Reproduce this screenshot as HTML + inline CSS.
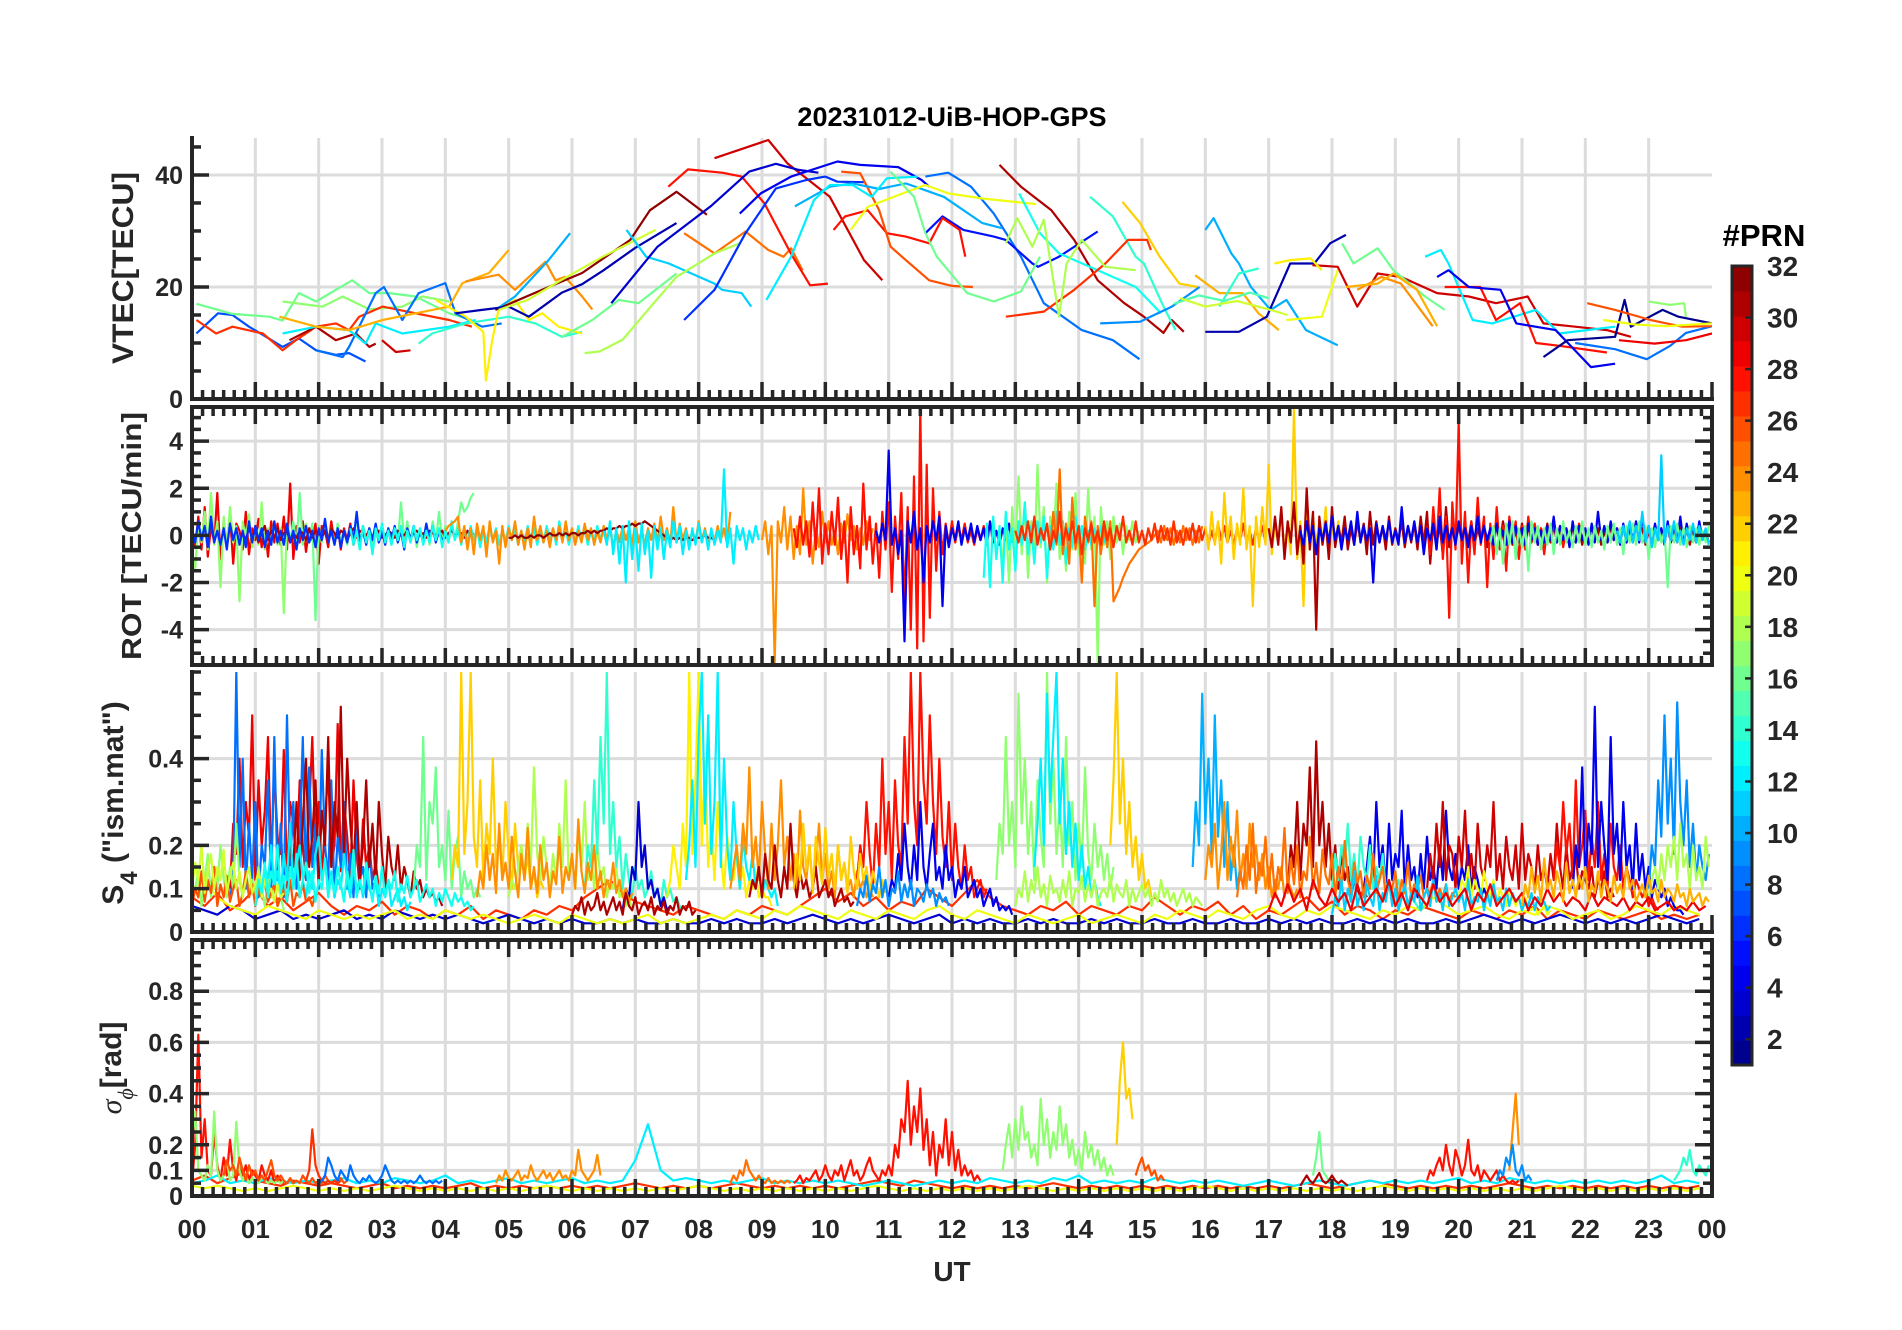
<!DOCTYPE html>
<html><head><meta charset="utf-8"><title>20231012-UiB-HOP-GPS</title>
<style>
html,body{margin:0;padding:0;background:#fff;}
svg{display:block;font-family:"Liberation Sans",Arial,sans-serif;}
</style></head>
<body>
<svg id="chart" width="1902" height="1330" viewBox="0 0 1902 1330" xmlns="http://www.w3.org/2000/svg">
<rect x="0" y="0" width="1902" height="1330" fill="#fff"/>
<text x="952" y="126" text-anchor="middle" font-size="27" font-weight="bold" fill="#000">20231012-UiB-HOP-GPS</text>
<g id="panels"></g>
<text x="952" y="1281" text-anchor="middle" font-size="28" font-weight="bold" fill="#262626">UT</text>
<text transform="translate(133,268) rotate(-90)" text-anchor="middle" font-size="30" font-weight="bold" fill="#262626" textLength="192" lengthAdjust="spacingAndGlyphs">VTEC[TECU]</text>
<text transform="translate(141,536) rotate(-90)" text-anchor="middle" font-size="28" font-weight="bold" fill="#262626" textLength="248" lengthAdjust="spacingAndGlyphs">ROT [TECU/min]</text>
<text transform="translate(123,803) rotate(-90)" text-anchor="middle" font-size="30" font-weight="bold" fill="#262626">S<tspan font-size="24" dy="14">4</tspan><tspan dy="-14"> ("ism.mat")</tspan></text>
<text transform="translate(121,1068) rotate(-90)" text-anchor="middle" font-size="30" font-weight="bold" fill="#262626"><tspan font-family="Liberation Serif,serif" font-style="italic" font-weight="normal">σ</tspan><tspan font-family="Liberation Serif,serif" font-style="italic" font-weight="normal" font-size="22" dy="12">ϕ</tspan><tspan dy="-12">[rad]</tspan></text>
<g id="colorbar"></g>
<text x="1764" y="246" text-anchor="middle" font-size="31" font-weight="bold" fill="#000">#PRN</text>
</svg>
<script>
// ---------- VTEC data ----------
const vtecPrn = [7,16,17,27,31,30,8,12,14,23,24,21,10,32,2,19,11,25,18,16,30,28,3,4,6,8,5,28,26,10,12,20,16,31,13,14,27,18,22,23,9,10,2,30,24,16,12,28,4,1,17,8,26,20,29,21,23,14,20,15,19];
const vtecTimes = [
[0.07,0.41,0.64,0.9,1.17,1.43,1.69,1.96,2.27,2.48,2.74],
[0.07,0.64,1.22,1.43,1.69,1.96,2.27,2.53,2.8,3.11,3.53,4.06,4.42],
[1.43,2.06,2.38,2.8,3.32,3.64,4.06],
[0.07,0.38,0.64,1.12,1.43,1.64,1.96,2.27,2.48,2.64,3.01,3.53,4.06,4.42],
[1.54,1.96,2.27,2.59,2.8,2.9],
[3.0,3.22,3.45],
[1.96,2.38,2.48,2.74,2.9,3.03,3.32,3.58,4.0,4.16,4.58,4.89],
[1.43,1.96,2.48,2.74,2.9,3.32,4.06,4.48],
[3.58,3.79,4.32,5.0,5.42,5.84,6.16],
[1.38,1.96,2.48,3.01,3.53,4.06,4.27,4.69,5.0],
[4.32,4.84,5.1,5.58,5.74,5.89,6.16,6.32],
[3.85,4.32,4.6,4.64,4.74,4.84,5.1,5.32,5.53,5.79,6.16],
[4.79,5.1,5.63,5.97],
[4.79,5.63,6.16,6.92,7.23,7.65,8.13],
[4.16,4.58,5.0,5.32,5.84,6.16,6.5,7.0,7.65],
[4.84,5.3,5.84,6.5,7.32],
[6.86,7.17,7.53,7.77,8.25,8.37,8.68,8.83],
[7.77,8.25,8.74,9.1,9.34,9.46,9.64],
[6.2,6.44,6.8,7.29,7.65,8.25,8.65],
[5.84,6.32,6.74,7.05,7.65],
[8.25,9.1,9.4,10.07,10.61,10.9],
[7.52,7.83,8.37,8.68,9.04,9.46,9.76,10.04],
[6.62,7.35,8.19,8.8,9.22,9.58,9.89],
[8.65,8.98,9.46,10.19,10.55,11.15,11.52,11.64],
[7.77,8.25,8.74,9.22,9.7,10.0,10.19,10.61],
[11.58,11.94,12.3,12.66,13.09,13.45,14.05,14.54,14.96],
[11.58,11.85,12.18,12.66,12.85,13.27,13.36,13.69,14.3],
[10.13,10.31,10.67,10.97,11.27,11.64,11.85,12.12,12.21],
[10.25,10.55,10.85,11.03,11.27,11.64,12.0,12.33],
[9.52,10.07,10.43,10.85,11.27,11.87,12.48,12.79],
[9.07,9.46,9.82,10.07,10.43,10.73,10.97,11.46],
[10.4,10.67,11.15,11.58,11.94,12.48,13.33],
[11.03,11.4,11.58,11.76,12.24,12.66,13.09,13.39],
[12.75,13.09,13.57,13.93,14.3,14.72,15.03,15.34,15.47,15.66],
[13.06,13.39,13.69,14.3,14.9,15.3],
[14.18,14.54,14.9,15.03,15.34,15.53],
[12.85,13.45,13.93,14.42,14.78,15.08,15.14],
[12.85,13.03,13.27,13.45,13.69,13.81,14.05,14.42,14.9],
[14.69,14.97,15.28,15.59,15.88],
[15.84,16.22,16.59,16.84,17.16],
[14.34,14.97,15.47,15.91],
[16.0,16.13,16.41,16.53,16.72,17.03,17.28,17.59,18.09],
[16.0,16.53,16.97,17.34,17.72,17.97,18.22],
[17.69,18.09,18.4,18.72,19.09,19.66,20.16,20.59,21.09,21.34,21.84,22.34,22.72],
[18.4,18.78,19.09,19.59],
[18.16,18.34,18.72,18.97,19.47,19.78],
[19.47,19.72,19.84,20.22,20.53,21.22,21.59,22.47],
[19.78,20.34,20.59,20.97,21.22,21.59,22.34],
[19.66,19.84,20.16,20.66,20.91,21.53,22.09,22.47],
[21.34,21.72,22.47,22.62,22.72,23.22,23.47,24],
[23.0,23.34,23.56,23.59],
[21.84,22.47,22.97,23.34,23.59,24],
[22.03,22.47,23.03,23.53,24],
[22.28,22.78,23.28,24],
[22.53,23.09,23.59,24],
[17.09,17.34,17.66,17.84],
[18.22,18.72,18.97,19.34,19.66],
[16.22,16.53,16.84],
[17.28,17.84,18.09],
[15.5,15.9,16.3,16.7,17.0],
[15.6,16.0,16.5,17.0,17.3]];
const vtecValues = [
[11.7,15.3,15,12.9,11.1,9.3,10.8,8.7,7.9,8.2,6.7],
[17,15.2,14.7,14,18.9,17.4,19.5,21.2,18.9,18.9,18.3,15.3,14.1],
[17.4,16.5,18.3,16,16.5,18.3,17.4],
[14.1,11.7,12.9,11.7,8.7,10.5,12.9,13.5,12.3,14.7,16.5,15.3,14.1,12.9],
[10.5,12.9,10.5,11.7,9.3,9.9],
[10.5,8.4,8.7],
[8.7,7.5,9.3,15.2,18.9,20,14.1,18.9,20.7,15.3,12.9,13.5],
[11.7,12.9,12.3,9.9,13.5,11.7,12.9,14.1],
[9.9,11.7,13.5,14.7,13.5,11.1,12],
[14.7,12.9,12.3,14.1,15.3,16.5,20.7,22.5,26.6],
[21,22.2,19.5,24.5,21.2,21.8,18.3,16],
[17.7,14.7,12,3.3,10.5,15.9,17.7,14.1,15.3,12.9,11.7],
[15.9,18.3,24.8,29.6],
[15.9,20,22.5,28.4,33.7,37,32.9],
[15.3,15.9,16.5,14.7,19,20.5,23,27,31.4],
[15.9,17.7,21.3,25.5,30.2],
[30.2,25.4,24.2,23,20.6,19.5,18.9,16.5],
[29.6,26,29.9,26.6,25.4,26.9,23],
[8.2,8.5,10.6,17.1,21.8,26,27.8],
[11.1,14.1,17.7,17.1,22.4],
[43,46.25,42.1,36.1,24.8,21.2],
[37.9,41,40.4,39.7,34.9,25.9,20.3,20.6],
[17.1,27.2,34.4,40.6,42,40.9,40.4],
[33.1,36.7,39.7,42.4,41.8,41.4,39.1,37.9],
[14.1,19.5,29.6,37.6,39.1,39.7,38.8,38.7],
[39.7,40.4,37.9,33.1,25.4,17.1,12.3,10.5,7.1],
[29.6,32.6,30.2,29,28.4,24.2,23.6,25.4,29.9],
[30.2,32.6,33.7,29.6,29,27.8,32.3,30.2,25.4],
[40.6,40.3,33.7,27.2,24.8,21.2,20.2,20],
[34.4,37.9,38.5,37.5,38.5,36.1,31.4,30.5],
[17.7,25.4,35.5,38.2,38.2,36.1,39.4,39.7],
[30.2,34.3,36.4,38.2,36.7,35.8,34.8],
[40.6,36.1,29.6,25.4,18.9,17.4,19.2,25.4],
[41.8,37.9,33.7,28.4,21.2,17.1,14.7,11.8,14.1,12],
[36.7,29.6,26,23,20,15.3],
[36.1,32.6,25.4,24.2,16.5,12.3],
[14.7,15.6,19.5,24.2,28.4,28.4,26.6],
[27.8,32.3,27.2,32,14.7,24.2,28.4,23.6,23],
[35.2,31.4,25.4,20.6,20],
[22.1,18.9,18.9,15.3,12.3],
[13.5,13.8,16.5,20],
[30.2,32.3,26,24.2,20,15.9,17.7,12.3,9.6],
[12,12,14.7,24.2,24.2,27.8,29.3],
[23.9,23.6,16.5,22.4,21.8,18.9,18.3,17.1,18.3,13.5,12.9,12.3,11.1],
[19.5,21.8,20.6,13],
[27.8,24.2,26.9,23,18.3,15.9],
[25.4,26.6,24.2,14.1,13.5,15.9,11.7,12.9],
[20,20,14.1,17.1,10,9.5,8.3],
[21.8,23,20,19.5,13.5,12.3,5.7,6.3],
[7.5,10.5,11.1,17.7,12.9,15.9,14.7,13.5],
[17.4,16.8,17.1,14.7],
[10,8.9,7.1,9.5,11.8,13],
[17.1,15.9,14.1,12.9,13],
[14.1,13.3,13,13.5],
[10.5,9.9,10.5,11.7],
[24.2,24.8,25.1,23],
[20,20.6,22.4,19.5,13],
[16.5,22.4,23.3],
[14.1,14.7,23],
[17,18.5,17.5,19,18],
[18,16.5,17.5,16,15]];

// ---------- ROT data (tenths of TECU/min, 0.05 h steps) ----------
const rotPrn = [29,17,16,31,6,13,24,32,12,24,28,4,17,13,25,27,22,31,28,4,16,11];
const rotStart = [0.0,0.0,1.5,0.8,0.0,2.5,4.0,5.0,6.5,9.0,9.5,10.8,12.8,12.5,13.5,13.0,16.0,17.0,19.5,17.5,20.5,22.5];
const rotStep = 0.05;
const rotValues = [
[3,-5,8,-6,12,-9,4,-3,18,-10,6,-4,9,-12,5,2,-6,10,-8,3,-2,7,-5,4,-9,6,-3,5,-4,8,-6,22,-10,4,-3,6,-7,3,-2,5,-12,4,2,-5,6,-3,4,-6,3,-2,5,-4,2,-3,4,-2,3,-4,2,1],
[-8,-14,5,-3,10,-6,18,-4,6,-22,8,-5,12,-3,4,-28,6,-2,9,-5,3,-4,14,-6,3,-2,6,-4,3,-33,5,-2,4,-6,3,-2,5,-3,2,-4],
[4,-3,6,-5,18,-4,3,-2,5,-36,4,-3,6,-2,3,-4,5,-3,2,-4,3,-2,8,-3,4,-2,3,-5,2,-3,4,-2,3,-4,2,-3,14,-2,6,-3,4,-5,3,-2,5,-4,6,-3,10,-2,4,-3,5,-2,6,14,10,12,16,18],
[1,-2,3,-1,2,-3,1,4,-2,2,-1,3,-2,1,2,-3,1,-1,2,1,-2,3,-1,2,1,-1,2,-2,3,1,-1,2,1,-2,1,3,-1,2,1,0,2,-1,1,2,-1,0,2,1,-1,2,1,0,2,-1,1,2,0,1,-1,2,1,0,1,2,-1,1,2,0,1,1,-1,2,0,1],
[2,-3,6,-2,4,-5,8,-3,2,-4,3,-6,5,-2,3,-4,2,-5,6,-3,4,-2,3,-5,2,-4,6,-3,2,-4,5,-3,2,-6,3,-2,4,-3,2,-5,3,-2,7,-3,2,-4,3,-5,2,-3,4,-2,10,-3,2,-4,3,-2,5,-3,2,-4,3,-2,4,-3,2,-6,3,-2,4,-3,2,-3,5,-2,4,-3,2,-2],
[3,-4,2,-6,4,-3,2,-8,3,-2,5,-3,2,-4,3,-2,4,-5,2,-3,4,-2,3,-4,2,-3,4,-2,3,-5,2,-3,6,-2,3,-4,2,-3,4,-2,3,-5,2,-3,4,-2,3,-4,2,-3,4,-2,3,-4,2,-3,4,-2,3,-4,2,-3,4,-2,3,-4,6,-2,3,-4,2,-3,4,-2,3,-4,2,-3,4,-2],
[2,4,5,6,8,-3,4,-6,3,-8,5,-2,4,-9,6,-3,2,-12,4,-5,3,-2,6,-4,2,-6,3,-5,8,-2,4,-3,2,-5,3,-2,4,-3,6,-2,3,-4,2,-3,5,-2,3,-4,2,-3,4,-2,3,-5,2,-3,4,-2,3,-4,6,-3,2,-4,3,-2,5,-3,8,-2,3,-4,12,-3,5,-2,3,-4,2,-3,6,-2,3,-4,2,-3,4,-2,3,-4,10],
[-1,-1,0,-1,0,-1,-1,0,-1,0,0,-1,0,1,0,0,1,0,1,0,1,1,0,1,1,2,1,2,1,2,2,3,2,3,3,4,3,4,4,5,4,5,5,6,5,4,3,2,1,0,-1,-2,-1,-2,-1,-2,-1,-1,-2,-1,-1,-1,0,-1,-1,-2],
[2,-4,6,-8,3,-12,4,-20,6,-10,3,-15,5,-8,2,-18,4,-6,3,-10,2,-5,6,-3,4,-8,2,-6,3,-4,5,-3,2,-6,3,-4,2,-3,28,-5,3,-12,4,-2,3,-6,2,-3,4,-2],
[-2,6,-8,4,-54,6,-3,12,-6,8,-10,4,-8,20,-4,6,-12,3,-5,10,-3,6,-4,2,-8,5,-3,9,-2,4,-6,3,-4,6,-2,3],
[3,-5,8,-4,6,-9,14,-6,20,-12,5,-8,10,-4,16,-10,6,-20,12,-8,4,-14,22,-6,8,-12,5,-18,10,-6,14,-24,8,-10,18,-30,12,-40,25,-48,54,-45,30,-35,20,-15,10,-8,5,-4,6,-3,4,-2,5,-3,2,-4,3,-2,4,-3],
[2,-3,5,-2,36,-4,3,-8,2,-45,6,-3,10,-6,3,-20,4,-3,6,-2,8,-30,4,-5,3,-2,6,-4,3,-2,5,-3,4,-2,3,-4,6,-3,2,-4,3,-2,5,-3],
[-10,8,-20,12,-6,25,-8,14,-18,6,-10,30,-5,12,-20,8,-4,22,-10,6,-15,10,-6,18,-8,4,-12,20,-6,8,-54,12,-4,6,-10,8,-3,5,-8,4,-2,6,-3,2],
[-18,5,-22,8,-10,4,-20,10,-6,3,-15,6,-4,14,-8,4,-12,6,-3,8,-18,4,-6,10,-4,6,-12,3,-5,8,-3,4,-6,2,-4,3,-2,4,-3,2],
[4,-6,10,-4,28,-8,5,-12,16,-6,4,-20,8,-3,6,-30,4,-8,3,-5,6,-28,-25,-22,-18,-15,-12,-10,-8,-6,-5,-4,-3,-2,0,2,-3,4,-2,3,-4,2,-3,4,-2,3,-4,2,-3,4],
[2,-3,4,-2,6,-3,8,-4,3,-2,5,-6,2,-3,10,-4,3,-2,6,-3,4,-8,3,-2,5,-3,2,-4,6,-2,3,-5,4,-2,8,-3,2,-4,6,-3,2,-4,3,-2,5,-3,4,-2,3,-4,6,-3,2,-4,3,-2,5,-3,4,-2,3,-4,2,-3,5,-2,4,-3,2,-4,3,-2,5,-3,2,-4,3,-2,4,-3],
[4,-6,10,-4,6,-12,18,-3,8,-10,5,-4,20,-6,4,-30,8,-5,12,-4,30,-8,6,-3,10,-6,4,-8,54,-10,6,-30,16,-6,8,-4,6,-3,12,-8,4,-3,6,-4,3,-2,5,-3,4,-2],
[3,-5,8,-4,12,-10,6,-3,14,-8,4,-12,20,-6,10,-40,8,-4,6,-10,12,-5,4,-3,8,-6,3,-4,6,-2,5,-8,10,-4,6,-3,4,-6,8,-4,3,-2,6,-5,4,-3,5,-6,8,-4,10,-12,6,-3,4,-8,12,-5,6,-3,4,-2,5,-3,6,-4,3,-2,4,-5,3,-2,4,-3,6,-2,3,-4,2,-3,5,-2,4,-3,2,-4,3,-2,5,-3,4,-2,3,-4,2,-3,4,-2,3,-4,2,-3,4,-2,3,-4,2,-3,4,-2,3,-2,4,-3,2,-3,4,-2,3,-4,2,-3,4,-2,3,-2,4,-3,2,-3,4,-2,3,-4,2,-3,4,-2,2,-3],
[4,-8,12,-6,20,-10,8,-35,14,-6,48,-12,10,-20,6,-8,16,-4,8,-22,5,-10,12,-6,4,-15,8,-3,6,-10,4,-6,8,-3,5,-4,3,-8,4,-2,6,-3,4,-5,3,-2,4,-3,5,-2],
[2,-4,6,-3,4,-8,3,-2,5,-3,8,-2,4,-6,3,-2,6,-4,10,-3,4,-2,3,-20,5,-3,4,-2,6,-3,2,-4,12,-3,4,-2,6,-3,4,-8,3,-2,5,-6,8,-3,4,-2,3,-4,6,-2,3,-5,4,-2,8,-3,4,-2,3,-4,5,-3,2,-4,6,-3,4,-2,3,-4,5,-2,3,-4,2,-3,4,-2,8,-3,4,-2,3,-5,6,-3,4,-2,3,-4,5,-3,10,-2,4,-3,6,-2,3,-4,5,-3,4,-2,6,-3,8,-2,4,-3,5,-2,3,-4,6,-3,4,-2,8,-3,5,-2,4,-3,6,-2],
[-3,4,-8,3,-12,5,-4,6,-10,3,-5,4,-15,6,-3,4,-6,3,-4,5,-8,3,-4,6,-3,2,-5,4,-3,6,-4,3,-5,4,-3,2,-6,4,-3,5,-4,3,-8,4,-3,5,-4,6,-3,4,-10,3,-5,4,-3,2,-22,4,-3,5,-4,3,-5,4,-3,3,-4,2,-3,4],
[2,-3,4,-2,6,-3,4,-2,10,-3,4,-5,3,-2,34,-3,4,-2,6,-3,2,-4,3,-2,5,-3,4,-2,3,-4]];

// ---------- S4 data (hundredths) ----------
const s4Prn = [27,3,20,29,8,31,12,17,16,22,18,14,3,21,12,24,31,28,4,17,12,22,10,24,31,4,30,28,4,9,18,14,20,
  24,26,19,13,22,18,25,11,29,23,31,9];
const s4Start = [0,0,0,0.6,0.6,1.5,1.0,0.0,3.5,4.1,5.0,6.2,6.8,7.5,7.8,8.5,8.8,10.5,11.0,12.7,13.3,14.5,15.8,16.0,17.3,18.5,19.5,21.5,21.8,23.0,23.0,18.0,20.0,
  4.5,0.0,0.0,1.0,9.5,13.0,16.5,18.0,17.0,21.0,6.0,10.5];
const s4Step = [0.2,0.2,0.2,0.05,0.05,0.05,0.05,0.05,0.05,0.05,0.05,0.05,0.05,0.05,0.05,0.05,0.05,0.05,0.05,0.05,0.05,0.05,0.05,0.05,0.05,0.05,0.05,0.05,0.05,0.05,0.05,0.05,0.05,
  0.05,0.05,0.05,0.05,0.05,0.05,0.05,0.05,0.1,0.05,0.05,0.05];
const s4Values = [
[8,6,9,5,7,10,6,8,5,7,9,6,4,6,5,7,4,6,5,3,5,4,6,3,5,4,3,5,4,6,5,8,10,12,9,7,6,5,4,6,5,4,3,5,4,6,5,4,6,8,10,7,9,6,8,5,7,6,10,8,6,9,12,8,6,5,4,6,5,7,4,6,5,4,6,5,8,6,4,6,5,7,4,6,3,5,4,6,8,5,7,4,6,5,3,5,4,6,5,4,3,5,4,3,5,4,6,3,5,4,3,5,4,3,4,5,3,4,3,4],
[6,5,4,6,5,3,4,5,3,4,3,4,5,3,4,3,5,4,3,4,3,4,3,2,3,4,3,2,3,2,3,2,2,3,2,3,2,2,3,2,2,3,2,3,2,2,3,2,3,4,3,2,3,2,3,4,3,2,3,4,2,3,2,3,2,2,3,2,3,2,2,3,2,3,2,2,3,2,2,3,2,2,3,2,2,3,2,3,2,3,2,2,3,2,3,2,3,2,2,3,2,3,4,3,2,3,2,3,4,3,2,3,2,3,2,3,4,3,2,3],
[10,12,8,6,5,4,6,5,4,3,5,4,3,4,3,4,5,3,4,3,5,4,3,4,3,2,3,4,3,2,4,3,2,3,2,3,4,2,3,2,3,4,3,5,4,3,5,4,6,5,4,3,5,4,3,5,4,3,5,6,4,3,5,4,3,2,4,3,2,3,4,2,3,4,3,2,4,3,5,4,3,5,4,3,5,6,4,3,5,4,6,5,4,3,5,4,6,5,8,6,4,5,6,4,3,5,4,6,5,3,4,5,3,4,6,5,4,6,5,4],
[10,25,18,40,15,30,22,50,12,35,20,28,45,15,38,22,18,42,12,30,25,15,35,20,12,28,45,18,30,12,25,38,15,20,48,14,30,22,12,35,18,10,26,15,20,12,16,10],
[8,12,60,15,40,10,25,12,30,8,20,15,35,10,45,12,25,8,50,15,30,10,20,45,12,38,15,25,10,42,20,12,35,8,22,15,30,10,18,8,24,12,15,8,20,10,12,8],
[10,20,15,30,12,25,40,15,22,35,12,28,20,45,15,30,22,52,18,40,25,15,30,12,20,35,15,25,12,30,18,10,22,15,12,20,10,15,12,8,14,10,12,8,10,8,9,7,8,6],
[6,10,8,15,12,20,10,14,8,18,12,25,10,15,20,12,8,14,10,18,22,12,16,10,14,8,12,10,18,12,8,15,10,12,8,14,10,8,12,6,10,8,12,6,8,10,6,8,5,7],
[8,10,14,6,12,18,8,15,10,20,12,8,15,10,25,12,8,14,10,12,8,15,10,6,12,8,10,6,8,5],
[10,20,15,45,12,30,25,38,15,20,12,28,10,18,22,8,14,10,12,8,10,8],
[12,20,15,60,18,30,60,22,15,35,12,25,18,40,15,22,12,30,18,10,25,15,20,12,18,10,14,8,12,10],
[8,12,10,15,20,12,25,15,38,18,12,22,15,10,18,12,25,15,35,12,18,10,22,15,30,12,18,10,20,12,15,8,12,10,15,8,10,6,8,5],
[10,20,15,35,18,45,25,60,18,30,15,22,10,18,12,8,15,10,12,8,10,14,8,10,6,12,8,10,7,8,6,5],
[5,10,8,15,12,30,15,20,10,12,8,10,6,8,5,6],
[8,12,20,15,10,25,15,60,18,35,60,20,40,15,25,12,30,18,10,22,15,12,18,10,15,8,12,10,14,8,10,8,8,6],
[12,20,35,15,45,60,25,50,18,30,60,15,40,20,12,30,18,10,22,15,12,18,10,15,8,12,10,8,10,6],
[10,15,20,12,25,18,38,15,22,12,30,18,10,25,12,20,35,15,22,12,18,10,28,15,12,20,10,15,25,12,18,10,14,8,20,12,16,10,12,8,14,10,12,8,10,8],
[8,12,10,15,8,18,12,10,20,12,8,15,10,25,12,8,14,10,12,8,10,15,8,10,12,8,10,6,8,10,7,8,6,7],
[12,20,15,30,18,10,25,15,40,18,30,12,35,20,15,45,25,60,30,20,60,35,25,50,30,18,40,22,15,30,12,25,15,10,20,12,15,8,10,12,8,10],
[8,12,10,18,12,25,15,10,20,12,30,15,10,18,25,12,15,10,20,12,15,8,12,10,15,8,10,12,8,10,6,8,10,6,8,5,6,5,6,4],
[12,25,18,45,20,30,15,55,25,40,18,30,12,35,22,15,60,25,40,18,30,15,45,20,30,12,25,15,38,18,12,25,15,20,12,18,10,15],
[15,25,40,20,55,30,45,60,25,40,18,30,15,25,12,20,10,15,8,12,8,6],
[20,35,60,25,40,18,30,15,22,12,18,10,12,8],
[15,30,20,55,25,40,18,50,22,35,15,30,12,20,10,15],
[12,20,15,25,10,18,30,12,22,15,28,12,18,10,25,15,20,12,18,10,15,8,12,10,15,8,12,10,8,10],
[10,20,15,30,12,25,20,38,15,44,20,30,15,25,12,20,10,18,12,15,8,12,10,8,10,8],
[10,15,22,12,30,15,20,10,25,12,18,15,28,10,20,12,15,8,18,10,22,12,15,10,20,12,28,15,12,18,10,15,12,20,10,15,12,8,10,8],
[10,18,12,25,15,30,12,20,18,10,22,15,28,12,18,10,25,15,12,20,15,30,12,18,10,22,15,12,20,10,25,12,18,15,10,20,12,15,10,18,12,25,15,10,20,12,15,18,10,14,12,10,15,8,12,10,14,8,10,8],
[12,20,15,30,18,25,12,35,15,20,28,12,22,15,30,12,18,10,25,15,12,20,10,15,12,8,12,10,8,10,6,8,6,5],
[10,20,15,38,12,25,18,52,15,30,20,12,45,18,25,12,30,15,20,10,25,12,18,10,15,8,12,10,8,10,6,8,6,5,5,4],
[10,20,15,35,22,50,25,40,18,53,30,20,35,15,25,12,20,15,12,18],
[8,12,15,10,18,12,20,15,22,12,25,15,18,10,20,12,15,10,22,15],
[10,18,12,20,15,25,12,18,10,22,15,12,20,10,15,12,18,10,12,8,10,12,8,10,6,8,7,6,5,6],
[8,12,10,15,8,12,10,8,14,10,8,12,6,10,8,6,10,8,6,8,5,8,6,5,6,4,5,6,4,5],
[8,14,10,20,12,18,9,25,12,16,10,22,14,8,18,12,24,10,15,9,20,12,16,8,14,11,22,9,15,12,18,10,26,14,9,16,12,20,10,14,8,12,10,16,9,12,8,10,7,9],
[6,10,8,14,7,12,9,15,6,11,8,13,7,10,12,6,9,14,8,11,6,10,8,12,7,9,11,6,8,10,7,12,6,9,8,11,7,8,6,9],
[10,16,12,20,9,14,18,10,15,12,19,9,13,16,10,14,8,12,15,9,11,14,8,12,9,10,7,11,8,9],
[6,12,9,16,8,14,11,20,9,13,7,15,10,18,8,12,16,9,14,7,12,10,17,8,13,9,15,11,7,14,10,19,8,12,9,16,11,7,13,9,15,8,12,10,14,7,11,9,13,8,10,12,7,9,11,8,10,6,9,7,10,8,6,9,7,8,6,7,5,6],
[10,18,12,25,14,20,9,22,16,11,24,13,18,10,20,12,16,9,22,14,10,18,12,15,9,14,11,8,12,9],
[6,10,8,14,7,12,9,15,8,11,6,13,9,10,7,12,8,14,6,10,9,13,7,11,8,12,6,9,10,8,13,7,11,9,8,12,6,10,7,9,11,8,10,6,9,7,12,8,10,7,9,6,8,10,7,9,6,8,7,6],
[8,14,10,20,12,25,9,16,13,22,10,18,8,15,12,24,9,17,11,20,8,14,12,22,10,16,9,19,13,11,18,8,15,10,21,12,9,16,11,14,8,13,10,18,9,12,15,8,11,10,14,7,12,9,16,8,11,10,13,8,10,9,12,7,10,8,11,7,9,8],
[4,8,6,12,5,10,7,14,6,9,5,11,8,6,13,5,9,7,12,6,10,5,8,11,6,9,7,13,5,8,10,6,12,7,9,5,11,6,8,10,7,9,5,12,6,8,7,10,5,9,6,11,7,8,5,10,6,9,7,8,5,7,6,9,5,8,6,7,5,6],
[5,9,6,11,7,10,5,12,8,6,10,7,9,5,11,6,8,10,7,12,6,9,5,10,8,6,11,7,9,6,8,10,5,9,7,11,6,8,10,7,9,5,8,6,10,7,9,6,8,7,5,9,6,8,7,6,8,5,7,6,8,5,6,7,5,6,5,7,5,6],
[6,11,8,15,9,13,7,17,10,12,8,14,11,7,16,9,12,8,13,10,15,7,11,9,14,8,12,10,7,13,9,11,8,15,10,12,7,9,11,8,13,9,10,7,12,8,10,9,7,11,8,9,6,10,7,8,9,6,8,7],
[4,6,5,8,4,7,5,6,9,5,7,4,6,8,5,7,4,9,6,5,8,4,6,7,5,8,4,6,5,7,4,6,5,8,4,6,5,7,4,5],
[6,10,8,13,7,11,9,15,8,12,6,10,9,14,7,11,8,12,6,10,9,7,11,8,10,6,9,7,8,6]];

// ---------- sigma-phi data (hundredths of rad) ----------
const sigPrn = [27,20,12,28,17,26,27,8,24,25,28,17,22,26,16,28,24,9,14,31];
const sigStart = [0,0,0,0.0,0.0,0.5,1.8,2.0,4.8,8.5,9.5,12.8,14.6,14.9,17.7,19.5,20.8,20.6,23.4,17.5];
const sigStep = [0.2,0.2,0.2,0.05,0.05,0.05,0.05,0.05,0.05,0.05,0.05,0.05,0.05,0.05,0.05,0.05,0.05,0.05,0.05,0.05];
const sigValues = [
[6,8,5,7,9,6,5,4,6,5,4,5,4,3,4,5,3,4,3,4,3,4,5,3,4,3,4,3,4,3,4,3,4,3,4,5,4,3,4,3,4,3,4,5,4,3,4,3,4,3,4,3,4,5,6,5,4,6,5,4,3,4,3,4,3,4,3,4,5,4,3,4,3,4,3,4,3,4,3,4,3,4,3,4,3,4,3,4,5,4,3,4,5,6,5,4,3,4,3,4,3,4,3,4,5,4,3,4,3,4,3,4,3,4,3,4,3,4,3,4],
[4,3,4,3,2,3,2,3,4,3,2,3,2,3,2,3,4,3,2,3,2,3,2,3,2,3,2,3,4,3,2,3,2,3,2,3,2,3,2,3,4,3,2,3,2,3,2,3,2,3,2,3,2,3,4,3,2,3,2,3,2,3,2,3,2,3,4,3,2,3,2,3,2,3,2,3,2,3,2,3,4,3,2,3,2,3,2,3,2,3,2,3,2,3,4,3,2,3,2,3,2,3,2,3,2,3,2,3,4,3,2,3,2,3,2,3,2,3,2,3],
[5,6,8,5,6,5,7,6,5,6,5,6,7,5,6,5,7,6,5,6,8,5,6,5,6,7,5,6,5,6,7,5,6,5,6,14,28,10,6,7,6,5,6,5,6,7,5,6,5,6,5,6,5,4,5,6,5,4,5,6,5,6,5,7,6,5,6,5,7,6,8,5,6,5,6,5,7,6,5,6,5,6,5,4,5,6,5,4,5,6,5,4,5,6,5,6,5,6,5,6,7,5,6,5,7,6,5,6,5,6,5,6,5,6,5,6,8,5,6,5],
[5,20,63,15,30,10,8,25,12,6,15,8,22,10,6,14,8,12,6,10,8,6,12,8,6,10,5,8,6,5],
[20,33,10,8,6,12,8,33,10,6,8,14,6,8,29,10,6,8,5,7,6,5,8,6,5,6,5,6,5,6],
[8,14,10,12,8,15,10,6,12,8,10,6,8,6,10,14,8,6,8,6,5,7,5,6,5,8,6,5,7,5,6,5,8,6,5,6,5,7,5,6],
[6,10,26,12,8,6,5,6,5,6,5,6],
[5,6,8,15,12,8,6,10,8,6,12,8,6,5,7,6,8,6,5,6,8,12,9,6,5,6,5,6,5,6,5,6,8,6,5,6,5,6,5,6],
[5,8,6,10,7,6,8,10,6,8,7,12,8,6,8,10,7,9,6,8,10,7,8,6,10,8,18,10,8,6,8,10,16,8],
[5,8,6,10,8,14,10,8,6,8,6,5,7,5,6,5,6,5,6,5],
[5,6,8,5,7,6,8,10,6,8,12,8,6,10,8,12,6,10,14,8,10,6,8,12,15,10,8,6,10,8,12,8,20,15,30,25,45,20,35,25,42,18,30,12,25,8,20,15,30,12,25,10,18,8,12,8,10,6,8,6],
[10,20,28,15,30,18,35,22,25,15,20,12,38,20,30,15,25,18,35,20,28,15,22,12,18,10,25,15,20,12,18,10,15,8,12,8],
[20,45,60,38,42,30],
[8,12,15,10,12,8,10,6,8,6],
[8,15,25,10,8,6],
[6,10,8,12,15,10,20,12,8,18,14,8,12,22,10,8,12,6,10,8,6,8,10,6,8,6,5,6,5,6],
[10,25,40,20],
[6,10,8,15,12,20,10,8,12,6,8,6],
[6,8,10,15,12,18,10,8,12,10,8,12],
[4,6,8,6,5,7,9,6,5,6,8,6,5,6,5,4]];

// ---------- axis tick labels ----------
const xTickLabels = ["00","01","02","03","04","05","06","07","08","09","10","11","12","13","14","15","16","17","18","19","20","21","22","23","00"];
const vtecTicks = [0,20,40];
const rotTicks = [-4,-2,0,2,4];
const s4Ticks = [0,0.1,0.2,0.4];
const sigTicks = [0,0.1,0.2,0.4,0.6,0.8];
const cbTicks = [2,4,6,8,10,12,14,16,18,20,22,24,26,28,30,32];

// ---------- layout ----------
const NS = "http://www.w3.org/2000/svg";
const L = 192, R = 1712;
const AX = "#262626";
const panelDefs = [
  {name:"vtec", top:138, bottom:399, min:0, max:46.6, box:false, ticks:vtecTicks, minor:5, fmt:v=>String(v)},
  {name:"rot", top:407, bottom:665, min:-5.5, max:5.45, box:true, ticks:rotTicks, minor:0.5, fmt:v=>String(v)},
  {name:"s4", top:672, bottom:932, min:0, max:0.6, box:false, ticks:s4Ticks, minor:0.05, fmt:v=>v===0?"0":String(v)},
  {name:"sigma", top:940, bottom:1196, min:0, max:1.0, box:true, ticks:sigTicks, minor:0.05, fmt:v=>v===0?"0":String(v)}
];
function xs(h){ return L + h/24*(R-L); }
function ys(p,v){ return p.bottom - (v-p.min)/(p.max-p.min)*(p.bottom-p.top); }
function jet(prn){
  const x = (prn-0.5)/32;
  const c = t => Math.round(255*Math.max(0,Math.min(1,t)));
  return "rgb("+c(1.5-Math.abs(4*x-3))+","+c(1.5-Math.abs(4*x-2))+","+c(1.5-Math.abs(4*x-1))+")";
}
function mk(tag, attrs, parent){
  const e = document.createElementNS(NS, tag);
  for (const k in attrs) e.setAttribute(k, attrs[k]);
  parent.appendChild(e);
  return e;
}
const root = document.getElementById("panels");
const defs = mk("defs", {}, root);

panelDefs.forEach((p, pi) => {
  const g = mk("g", {}, root);
  
  
  const cp = mk("clipPath", {id:"clip"+pi}, defs);
  mk("rect", {x:L, y:p.top, width:R-L, height:p.bottom-p.top}, cp);
  const grid = mk("g", {stroke:"#dcdcdc", "stroke-width":3}, g);
  
  
  for (let h=1; h<24; h++) mk("line", {x1:xs(h), x2:xs(h), y1:p.top, y2:p.bottom}, grid);
  p.ticks.forEach(t => { if (t!==p.min) mk("line", {x1:L, x2:R, y1:ys(p,t), y2:ys(p,t)}, grid); });
  const dg = mk("g", {"clip-path":"url(#clip"+pi+")", fill:"none", "stroke-width":2.2, "stroke-linejoin":"round"}, g);
  
  
  p.dataGroup = dg;
  p.group = g;
});

function addLine(p, prn, pts){
  const pl = mk("polyline", {points: pts.map(q=>q[0].toFixed(1)+","+q[1].toFixed(1)).join(" "), stroke: jet(prn)}, p.dataGroup);
  
  
}
vtecPrn.forEach((prn,i) => {
  const p = panelDefs[0];
  addLine(p, prn, vtecTimes[i].map((t,j)=>[xs(t), ys(p, vtecValues[i][j])]));
});
rotPrn.forEach((prn,i) => {
  const p = panelDefs[1];
  addLine(p, prn, rotValues[i].map((v,j)=>[xs(rotStart[i]+j*rotStep), ys(p, v/10)]));
});
s4Prn.forEach((prn,i) => {
  const p = panelDefs[2];
  addLine(p, prn, s4Values[i].map((v,j)=>[xs(s4Start[i]+j*s4Step[i]), ys(p, v/100)]));
});
sigPrn.forEach((prn,i) => {
  const p = panelDefs[3];
  addLine(p, prn, sigValues[i].map((v,j)=>[xs(sigStart[i]+j*sigStep[i]), ys(p, v/100)]));
});

panelDefs.forEach((p, pi) => {
  const g = p.group;
  const ax = mk("g", {stroke:AX, "stroke-width":4, fill:"none"}, g);
  
  
  if (p.box) mk("rect", {x:L, y:p.top, width:R-L, height:p.bottom-p.top}, ax);
  else mk("polyline", {points: L+","+(p.top-2)+" "+L+","+p.bottom+" "+(R+2)+","+p.bottom}, ax);
  const tk = mk("g", {stroke:AX, "stroke-width":3.5}, g);
  
  
  for (let m=0; m<=144; m++){
    const x = xs(m/6), len = (m%6===0)?17:9;
    mk("line", {x1:x, x2:x, y1:p.bottom, y2:p.bottom-len}, tk);
    if (p.box) mk("line", {x1:x, x2:x, y1:p.top, y2:p.top+len}, tk);
  }
  const nMinor = Math.round((p.max-p.min)/p.minor)+1;
  const startV = Math.ceil(p.min/p.minor - 1e-6)*p.minor;
  for (let k=0; k<nMinor+1; k++){
    const v = startV + k*p.minor;
    if (v > p.max+1e-9) break;
    const major = p.ticks.some(t=>Math.abs(t-v)<1e-6);
    const len = major?17:9;
    const y = ys(p,v);
    mk("line", {x1:L, x2:L+len, y1:y, y2:y}, tk);
    if (p.box) mk("line", {x1:R, x2:R-len, y1:y, y2:y}, tk);
  }
  p.ticks.forEach(t => {
    const tx = mk("text", {x:L-9, y:ys(p,t)+9, "text-anchor":"end", "font-size":25, "font-weight":"bold", fill:AX}, g);
    
    
    tx.textContent = p.fmt(t);
  });
});
xTickLabels.forEach((lab, h) => {
  const tx = mk("text", {x:xs(h), y:1238, "text-anchor":"middle", "font-size":26, "font-weight":"bold", fill:AX}, root);
  
  
  tx.textContent = lab;
});

const cb = document.getElementById("colorbar");
const cbX = 1732, cbW = 20, cbTop = 266, cbBot = 1065, cbMin = 1, cbMax = 32;
const cbY = v => cbBot - (v-cbMin)/(cbMax-cbMin)*(cbBot-cbTop);
for (let i=1; i<=32; i++){
  const y0 = cbY(Math.min(cbMax, cbMin + (i)*(cbMax-cbMin)/32));
  const y1 = cbY(cbMin + (i-1)*(cbMax-cbMin)/32);
  const r = mk("rect", {x:cbX, y:y0, width:cbW, height:(y1-y0)+0.6, fill:jet(i)}, cb);
  
  
}
const cbFrame = mk("rect", {x:cbX, y:cbTop, width:cbW, height:cbBot-cbTop, fill:"none", stroke:AX, "stroke-width":3}, cb);


cbTicks.forEach(t => {
  const y = cbY(t);
  mk("line", {x1:cbX+cbW-7, x2:cbX+cbW, y1:y, y2:y, stroke:AX, "stroke-width":2.5}, cb);
  const tx = mk("text", {x:1767, y:y+10, "font-size":28, "font-weight":"bold", fill:AX}, cb);
  
  
  tx.textContent = String(t);
});
</script>
</body></html>
